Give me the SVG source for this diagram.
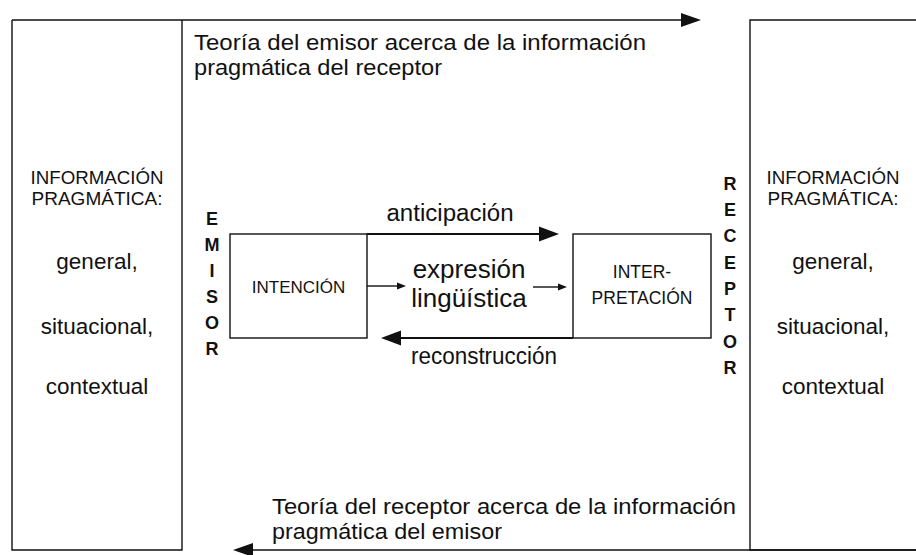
<svg xmlns="http://www.w3.org/2000/svg" width="916" height="555" viewBox="0 0 916 555">
<style>
text{font-family:"Liberation Sans",Arial,Helvetica,sans-serif;fill:#111}
.box{fill:none;stroke:#111;stroke-width:1.4}
.ln{fill:none;stroke:#111;stroke-width:1.4}
.thick{fill:none;stroke:#111;stroke-width:2}
.head{fill:#111;stroke:none}
.big{font-size:21.5px}
.info{font-size:19px}
.col{font-size:22.5px}
.vert{font-size:18px;font-weight:bold}
.mid{font-size:23px}
.c{text-anchor:middle}
</style>
<rect width="916" height="555" fill="#fff"/>

<g id="emisor-info">
<path class="box" d="M12,20 V550 H182 V20"/>
<text class="info c" x="97" y="184" textLength="133" lengthAdjust="spacingAndGlyphs">INFORMACIÓN</text>
<text class="info c" x="97" y="205" textLength="131" lengthAdjust="spacingAndGlyphs">PRAGMÁTICA:</text>
<text class="col c" x="97" y="269">general,</text>
<text class="col c" x="97" y="334">situacional,</text>
<text class="col c" x="97" y="394">contextual</text>
</g>

<g id="receptor-info">
<path class="box" d="M916,20 H750 V550 H916"/>
<text class="info c" x="833" y="184" textLength="133" lengthAdjust="spacingAndGlyphs">INFORMACIÓN</text>
<text class="info c" x="833" y="205" textLength="131" lengthAdjust="spacingAndGlyphs">PRAGMÁTICA:</text>
<text class="col c" x="833" y="269">general,</text>
<text class="col c" x="833" y="334">situacional,</text>
<text class="col c" x="833" y="394">contextual</text>
</g>

<g id="emisor">
<text class="vert c" x="212" y="225">E</text>
<text class="vert c" x="212" y="251">M</text>
<text class="vert c" x="212" y="277">I</text>
<text class="vert c" x="212" y="303">S</text>
<text class="vert c" x="212" y="329">O</text>
<text class="vert c" x="212" y="355">R</text>
</g>

<g id="receptor">
<text class="vert c" x="730" y="190">R</text>
<text class="vert c" x="730" y="216">E</text>
<text class="vert c" x="730" y="242">C</text>
<text class="vert c" x="730" y="269">E</text>
<text class="vert c" x="730" y="295">P</text>
<text class="vert c" x="730" y="321">T</text>
<text class="vert c" x="730" y="348">O</text>
<text class="vert c" x="730" y="374">R</text>
</g>

<g id="intencion">
<rect class="box" x="230" y="234" width="137" height="104"/>
<text class="c" x="298.5" y="293" style="font-size:17px">INTENCIÓN</text>
</g>

<g id="interpretacion">
<rect class="box" x="573" y="234" width="138" height="104"/>
<text class="c" x="642" y="278" style="font-size:17.5px">INTER-</text>
<text class="c" x="642" y="304" style="font-size:17.5px">PRETACIÓN</text>
</g>

<g id="expresion">
<text class="c" x="469" y="278" style="font-size:26px">expresión</text>
<text class="c" x="469" y="307" style="font-size:26px">lingüística</text>
</g>

<g id="connectors">
<!-- top: emisor's theory -->
<path class="ln" d="M12,20 H684"/>
<polygon class="head" points="681,13 701,20 681,27"/>
<text class="big" x="194" y="50" textLength="452" lengthAdjust="spacingAndGlyphs">Teoría del emisor acerca de la información</text>
<text class="big" x="194" y="75" textLength="248" lengthAdjust="spacingAndGlyphs">pragmática del receptor</text>

<!-- bottom: receptor's theory -->
<path class="ln" d="M250,550 H916"/>
<polygon class="head" points="253,543 233,550 253,557"/>
<text class="big" x="272" y="514" textLength="464" lengthAdjust="spacingAndGlyphs">Teoría del receptor acerca de la información</text>
<text class="big" x="272" y="539" textLength="230" lengthAdjust="spacingAndGlyphs">pragmática del emisor</text>

<!-- anticipación -->
<path class="thick" d="M367,234 H542"/>
<polygon class="head" points="539,226.5 559,234 539,241.5"/>
<text class="mid c" x="450" y="221" textLength="127" lengthAdjust="spacingAndGlyphs">anticipación</text>

<!-- reconstrucción -->
<path class="thick" d="M573,338 H398"/>
<polygon class="head" points="401,330.5 381,338 401,345.5"/>
<text class="mid" x="411" y="364" textLength="146" lengthAdjust="spacingAndGlyphs">reconstrucción</text>

<!-- small arrows -->
<path class="ln" d="M367,286 H399"/>
<polygon class="head" points="397,282.5 406,286 397,289.5"/>
<path class="ln" d="M533,287 H560"/>
<polygon class="head" points="558,283.5 567,287 558,290.5"/>
</g>
</svg>
